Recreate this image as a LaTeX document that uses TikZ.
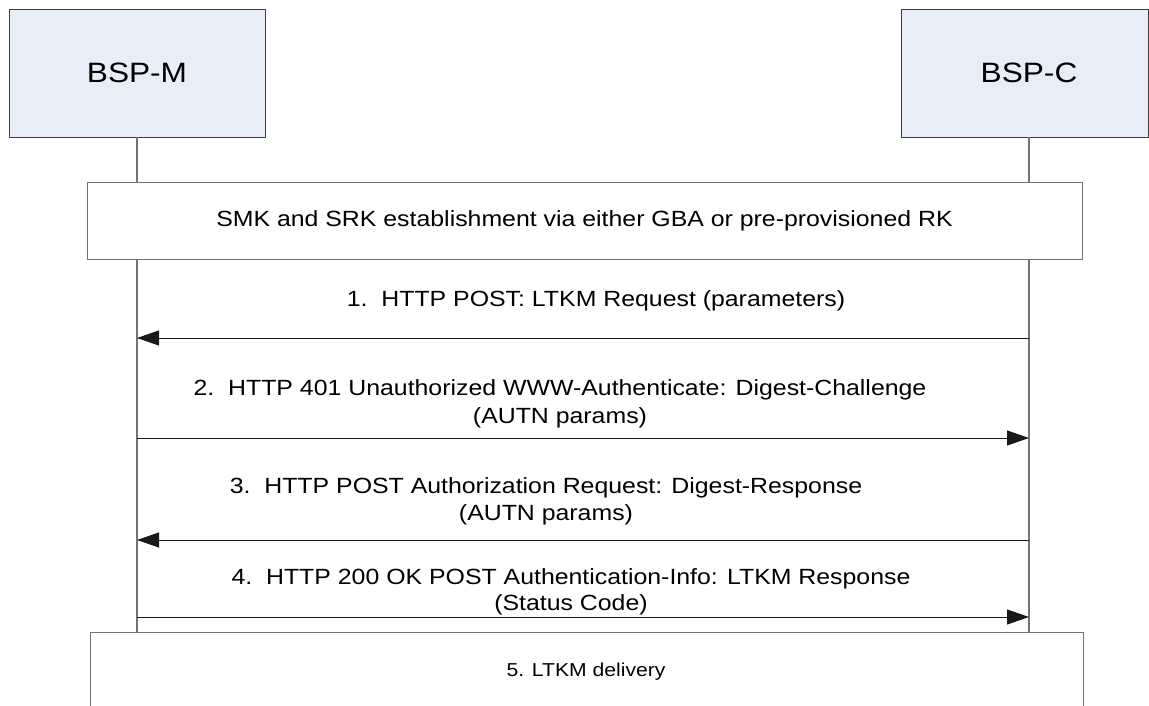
\documentclass[tikz,border=0pt]{standalone}
\usepackage{fontspec}
\setmainfont[FakeStretch=1.13]{Liberation Sans}
\usetikzlibrary{arrows.meta}
\begin{document}
\begin{tikzpicture}[x=1pt,y=-1pt,
  ent/.style={draw=black!75,line width=0.9pt,fill={rgb,255:red,232;green,238;blue,247},inner sep=0pt,font=\fontsize{28}{32}\selectfont},
  phase/.style={draw=black!55,line width=1pt,inner sep=0pt},
  life/.style={draw=black!55,line width=1.4pt},
  msg/.style={draw=black!90,line width=0.9pt,-{Triangle[length=22pt,width=15pt]}},
  lbl/.style={font=\fontsize{22}{28}\selectfont,align=center,inner sep=0pt}]
\useasboundingbox (0,0) rectangle (1149,706);
\node[ent,minimum width=256pt,minimum height=128pt] (m) at (137,73) {BSP-M};
\node[ent,minimum width=247pt,minimum height=128pt] (c) at (1025,73) {\hspace*{8pt}BSP-C};
\node[phase,minimum width=995pt,minimum height=76pt,font=\fontsize{22}{26}\selectfont] (s) at (584.5,221) {SMK and SRK establishment via either GBA or pre-provisioned RK};
\coordinate (mt) at (137,183);
\coordinate (ct) at (1029,183);
\coordinate (mb) at (137,259);
\coordinate (cb) at (1029,259);
\coordinate (me) at (137,632);
\coordinate (ce) at (1029,632);
\draw[life] (m.south -| mt) -- (mt);
\draw[life] (c.south -| ct) -- (ct);
\draw[life] (mb) -- (me);
\draw[life] (cb) -- (ce);
\draw[phase] (90,706) -- (90,632) -- (1083,632) -- (1083,706);
\node[font=\fontsize{18.7}{22}\selectfont] (d) at (586,672) {5. LTKM delivery};
\coordinate (m1) at (137,338); \coordinate (c1) at (1029,338);
\coordinate (m2) at (137,438); \coordinate (c2) at (1029,438);
\coordinate (m3) at (137,540); \coordinate (c3) at (1029,540);
\coordinate (m4) at (137,617); \coordinate (c4) at (1029,617);
\draw[msg] (c1) -- (m1);
\draw[msg] (m2) -- (c2);
\draw[msg] (c3) -- (m3);
\draw[msg] (m4) -- (c4);
\node[lbl] (l1) at (596,301) {1.\ \ HTTP POST: LTKM Request (parameters)};
\node[lbl,anchor=north] (l2) at (560,379) {2.\ \ HTTP 401 Unauthorized WWW-Authenticate: Digest-Challenge\\(AUTN params)};
\node[lbl,anchor=north] (l3) at (546,477) {3.\ \ HTTP POST Authorization Request: Digest-Response\\[-1pt](AUTN params)};
\node[lbl,anchor=north] (l4) at (571,568) {4.\ \ HTTP 200 OK POST Authentication-Info: LTKM Response\\[-2pt](Status Code)};
\end{tikzpicture}
\end{document}
